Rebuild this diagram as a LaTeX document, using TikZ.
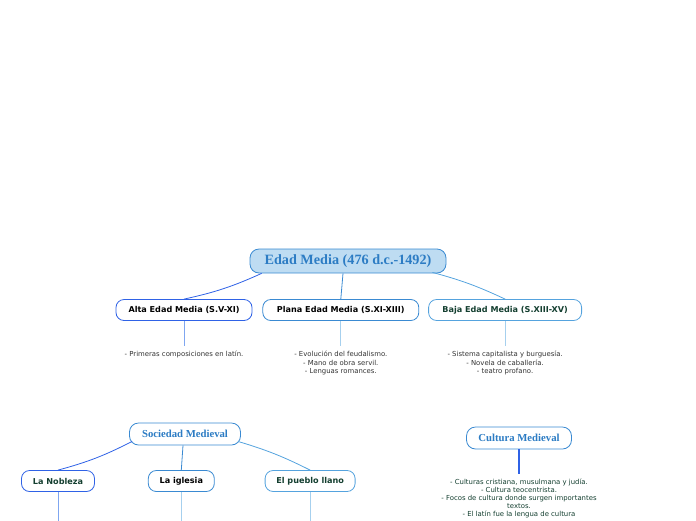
\documentclass[tikz,border=0pt]{standalone}
\usepackage{fontspec}
\setmainfont{Liberation Serif}
\newfontfamily\verdana{DejaVu Sans}
\usetikzlibrary{positioning}
\definecolor{deepblue}{HTML}{2F62E6}
\definecolor{midblue}{HTML}{3A8AD2}
\definecolor{softblue}{HTML}{55A3DE}
\definecolor{paleblue}{HTML}{A6D0EE}
\definecolor{lilacblue}{HTML}{7FA6F0}
\definecolor{titlefill}{HTML}{BEDCF2}
\definecolor{titletext}{HTML}{2C7CC4}
\definecolor{darkgreen}{HTML}{143F30}
\definecolor{notegray}{HTML}{333333}

\tikzset{
  topic/.style={draw=midblue, rounded corners=9pt, line width=0.8pt, fill=white,
    minimum height=22pt, inner xsep=2pt, text=titletext,
    font=\bfseries\fontsize{10.7}{12}\selectfont},
  subtopic/.style={draw, rounded corners=8pt, line width=0.8pt, fill=white,
    minimum height=21pt, inner xsep=2pt, font=\verdana\bfseries\fontsize{8.1}{9}\selectfont},
  notes/.style={align=center, inner sep=0pt, text=notegray,
    font=\verdana\fontsize{6.9}{8.5}\selectfont},
  link/.style={line width=0.8pt},
}

\begin{document}
\begin{tikzpicture}[x=1pt,y=-1pt]
\useasboundingbox (0,0) rectangle (696,520);
%%%%%%%%%%%%%%%%%%%%%%%%%%%%
%%%%%%%%% Edad Media %%%%%%%
%%%%%%%%%%%%%%%%%%%%%%%%%%%%
\node[topic, fill=titlefill, minimum width=196pt, minimum height=24pt, font=\bfseries\fontsize{14.2}{16}\selectfont] (edad) at (348,261) {Edad Media (476 d.c.-1492)};
\node[subtopic, draw=deepblue, minimum width=136pt] (alta) at (184,310) {Alta Edad Media (S.V-XI)};
\node[subtopic, draw=midblue, minimum width=156pt, right=10pt of alta] (plana) {Plana Edad Media (S.XI-XIII)};
\node[subtopic, draw=softblue, text=darkgreen, minimum width=153pt, right=9pt of plana] (baja) {Baja Edad Media (S.XIII-XV)};
\draw[link,deepblue] ([xshift=12pt]edad.south west) to[bend left=6] (alta.north);
\draw[link,midblue] ([xshift=-5pt]edad.south) -- (plana.north);
\draw[link,softblue] ([xshift=-14pt,yshift=1pt]edad.south east) to[bend left=5] (baja.north);
% notes
\coordinate[below=25pt of alta.south] (altafoot);
\coordinate[below=25pt of plana.south] (planafoot);
\coordinate[below=25pt of baja.south] (bajafoot);
\draw[link,lilacblue] (alta.south) -- (altafoot);
\draw[link,paleblue] (plana.south) -- (planafoot);
\draw[link,paleblue] (baja.south) -- (bajafoot);
\node[notes, below=5pt of altafoot] (altanotes) {- Primeras composiciones en latín.};
\node[notes, below=5pt of planafoot] (plananotes) {- Evolución del feudalismo.\\- Mano de obra servil.\\- Lenguas romances.};
\node[notes, below=5pt of bajafoot] (bajanotes) {- Sistema capitalista y burguesía.\\- Novela de caballería.\\- teatro profano.};
%%%%%%%%%%%%%%%%%%%%%%%%%%%%
%%%%%%%%% Sociedad %%%%%%%%%
%%%%%%%%%%%%%%%%%%%%%%%%%%%%
\node[topic, minimum width=111pt] (sociedad) at (185,434) {Sociedad Medieval};
\node[subtopic, draw=deepblue, text=darkgreen, minimum width=73pt] (nobleza) at (58,481) {La Nobleza};
\node[subtopic, draw=midblue, minimum width=66pt, right=53pt of nobleza] (iglesia) {La iglesia};
\node[subtopic, draw=softblue, text=darkgreen, minimum width=90pt, right=50pt of iglesia] (pueblo) {El pueblo llano};
\draw[link,deepblue] ([xshift=3pt,yshift=4pt]sociedad.south west) to[bend left=6] (nobleza.north);
\draw[link,midblue] ([xshift=-2pt]sociedad.south) -- (iglesia.north);
\draw[link,softblue] ([xshift=-3pt,yshift=4pt]sociedad.south east) to[bend left=5] (pueblo.north);
\coordinate[below=30pt of nobleza.south] (noblezafoot);
\coordinate[below=30pt of iglesia.south] (iglesiafoot);
\coordinate[below=30pt of pueblo.south] (pueblofoot);
\draw[link,lilacblue] (nobleza.south) -- (noblezafoot);
\draw[link,paleblue] (iglesia.south) -- (iglesiafoot);
\draw[link,paleblue] (pueblo.south) -- (pueblofoot);
%%%%%%%%%%%%%%%%%%%%%%%%%%%%
%%%%%%%%% Cultura %%%%%%%%%%
%%%%%%%%%%%%%%%%%%%%%%%%%%%%
\node[topic, minimum width=105pt] (cultura) at (519,438) {Cultura Medieval};
\coordinate[below=25pt of cultura.south] (culturafoot);
\draw[line width=1.6pt,deepblue] (cultura.south) -- (culturafoot);
\node[notes, text=darkgreen, below=4pt of culturafoot, font=\verdana\fontsize{6.9}{8.1}\selectfont] (culturanotes) {- Culturas cristiana, musulmana y judía.\\- Cultura teocentrista.\\- Focos de cultura donde surgen importantes\\textos.\\- El latín fue la lengua de cultura};
\end{tikzpicture}
\end{document}
